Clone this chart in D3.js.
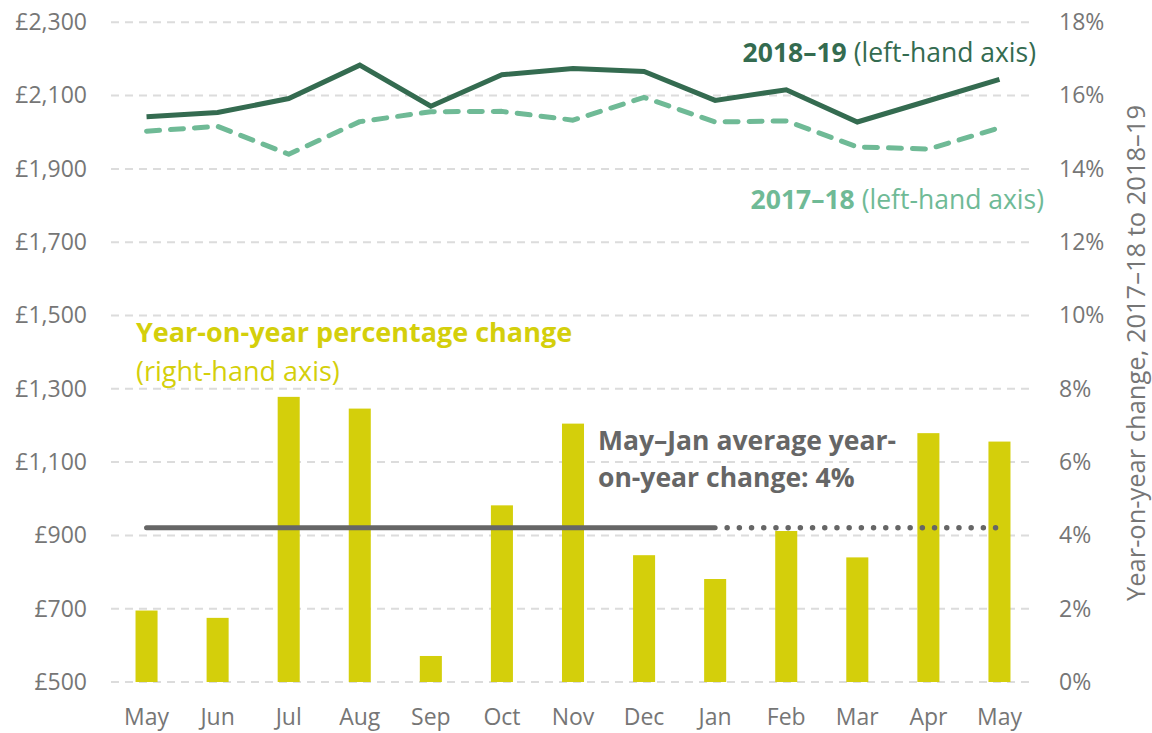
<!DOCTYPE html>
<html>
<head>
<meta charset="utf-8">
<script src="https://cdn.jsdelivr.net/npm/d3@7"></script>
<style>
  html, body { margin: 0; padding: 0; background: #fff; }
  svg text { font-family: "Open Sans", "Noto Sans", sans-serif; }
</style>
</head>
<body>
<div id="chart"></div>
<script>
var months = ['May', 'Jun', 'Jul', 'Aug', 'Sep', 'Oct', 'Nov', 'Dec', 'Jan', 'Feb', 'Mar', 'Apr', 'May'];
var spend1819 = [2042, 2054, 2092, 2183, 2071, 2157, 2174, 2166, 2087, 2116, 2028, 2086, 2144];
var spend1718 = [2003, 2016, 1940, 2029, 2056, 2057, 2033, 2095, 2028, 2031, 1960, 1954, 2012];
var yoyChange = [1.95, 1.75, 7.78, 7.46, 0.71, 4.82, 7.05, 3.46, 2.81, 4.12, 3.40, 6.79, 6.56];
var avgChange = 4.21; // May–Jan average
var leftTicks = [500, 700, 900, 1100, 1300, 1500, 1700, 1900, 2100, 2300];
var rightTicks = [0, 2, 4, 6, 8, 10, 12, 14, 16, 18];

function init() {
    'use strict';
    var W = 1152, H = 733;
    var top = 22.3, bottom = 682;
    var svg = d3.select('#chart').append('svg')
        .attr('width', W).attr('height', H);

    var idx = d3.range(months.length);
    var x = d3.scaleBand().domain(idx).range([111, 1035])
        .paddingInner(0.69).paddingOuter(0.345);
    var cx = function (i) { return x(i) + x.bandwidth() / 2; };
    var yL = d3.scaleLinear().domain([500, 2300]).range([bottom, top]);
    var yR = d3.scaleLinear().domain([0, 18]).range([bottom, top]);

    var tickColor = '#767676';

    // gridlines
    svg.append('g').selectAll('line').data(leftTicks).enter().append('line')
        .attr('x1', 111).attr('x2', 1035)
        .attr('y1', function (d) { return yL(d); })
        .attr('y2', function (d) { return yL(d); })
        .attr('stroke', '#dcdcdc').attr('stroke-width', 2)
        .attr('stroke-dasharray', '8,6');

    // left axis
    var left = svg.append('g').attr('transform', 'translate(87,0)')
        .call(d3.axisLeft(yL).tickValues(leftTicks).tickSize(0).tickPadding(0)
            .tickFormat(function (d) { return '£' + d3.format(',')(d); }));
    left.select('.domain').remove();
    left.selectAll('text').attr('fill', tickColor).style('font-size', '23px');

    // right axis
    var right = svg.append('g').attr('transform', 'translate(1059,0)')
        .call(d3.axisRight(yR).tickValues(rightTicks).tickSize(0).tickPadding(0)
            .tickFormat(function (d) { return d + '%'; }));
    right.select('.domain').remove();
    right.selectAll('text').attr('fill', tickColor).style('font-size', '23px');

    // bottom axis
    var bottomAxis = svg.append('g').attr('transform', 'translate(0,' + bottom + ')')
        .call(d3.axisBottom(x).tickSize(0).tickPadding(27)
            .tickFormat(function (i) { return months[i]; }));
    bottomAxis.select('.domain').remove();
    bottomAxis.selectAll('text').attr('fill', tickColor).style('font-size', '23px');

    svg.append('text')
        .attr('transform', 'translate(1145,' + 353 + ') rotate(-90)')
        .attr('text-anchor', 'middle')
        .attr('fill', tickColor).style('font-size', '25.5px')
        .text('Year-on-year change, 2017–18 to 2018–19');

    // bars
    svg.append('g').selectAll('rect').data(yoyChange).enter().append('rect')
        .attr('x', function (d, i) { return x(i); })
        .attr('width', x.bandwidth())
        .attr('y', function (d) { return yR(d); })
        .attr('height', function (d) { return yR(0) - yR(d); })
        .attr('fill', '#d4cf0b');

    // average line
    svg.append('line')
        .attr('x1', cx(0)).attr('x2', cx(8))
        .attr('y1', yR(avgChange)).attr('y2', yR(avgChange))
        .attr('stroke', '#666666').attr('stroke-width', 5)
        .attr('stroke-linecap', 'round');
    svg.append('line')
        .attr('x1', cx(8) + 12).attr('x2', cx(12))
        .attr('y1', yR(avgChange)).attr('y2', yR(avgChange))
        .attr('stroke', '#666666').attr('stroke-width', 5.5)
        .attr('stroke-linecap', 'round')
        .attr('stroke-dasharray', '0,12.2');

    // lines
    var spendLine = d3.line().x(function (d, i) { return cx(i); }).y(function (d) { return yL(d); });
    svg.append('path').datum(spend1718)
        .attr('d', spendLine)
        .attr('fill', 'none').attr('stroke', '#6fba96').attr('stroke-width', 5)
        .attr('stroke-linecap', 'round').attr('stroke-linejoin', 'round')
        .attr('stroke-dasharray', '13,11');
    svg.append('path').datum(spend1819)
        .attr('d', spendLine)
        .attr('fill', 'none').attr('stroke', '#346b50').attr('stroke-width', 5)
        .attr('stroke-linejoin', 'miter');

    // labels
    var t1 = svg.append('text').attr('x', 1036).attr('y', 62)
        .attr('text-anchor', 'end').attr('fill', '#346b50').style('font-size', '26.5px');
    t1.append('tspan').attr('font-weight', 'bold').text('2018–19');
    t1.append('tspan').text(' (left-hand axis)');

    var t2 = svg.append('text').attr('x', 1044).attr('y', 209)
        .attr('text-anchor', 'end').attr('fill', '#6fba96').style('font-size', '26.5px');
    t2.append('tspan').attr('font-weight', 'bold').text('2017–18');
    t2.append('tspan').text(' (left-hand axis)');

    svg.append('text').attr('x', 136).attr('y', 342)
        .attr('fill', '#d4cf0b').attr('font-weight', 'bold').style('font-size', '27px')
        .text('Year-on-year percentage change');
    svg.append('text').attr('x', 136).attr('y', 381)
        .attr('fill', '#d4cf0b').style('font-size', '27px')
        .text('(right-hand axis)');

    svg.append('text').attr('x', 598).attr('y', 450)
        .attr('fill', '#666666').attr('font-weight', 'bold').style('font-size', '26.5px')
        .text('May–Jan average year-');
    svg.append('text').attr('x', 598).attr('y', 487)
        .attr('fill', '#666666').attr('font-weight', 'bold').style('font-size', '26.5px')
        .text('on-year change: 4%');
}

window.onload = init;
</script>
</body>
</html>
